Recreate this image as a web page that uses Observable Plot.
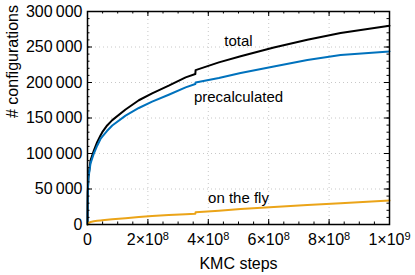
<!DOCTYPE html>
<html>
<head>
<meta charset="utf-8">
<script src="https://cdn.jsdelivr.net/npm/d3@7"></script>
<script src="https://cdn.jsdelivr.net/npm/@observablehq/plot@0.6"></script>
<style>
  html, body { margin: 0; padding: 0; background: #fff; }
</style>
</head>
<body>
<div id="chart"></div>
<script>
// KMC steps (raw)
const steps = [0, 0.005e8, 0.01e8, 0.03e8, 0.1e8, 0.21e8, 0.32e8, 0.43e8, 0.49e8, 0.65e8, 0.82e8, 1.26e8, 1.70e8, 2.14e8, 2.69e8, 3.25e8, 3.57e8, 3.58e8, 4.35e8, 5.07e8, 6.17e8, 7.28e8, 8.38e8, 10e8];
const total = [0, 26000, 46000, 67000, 90000, 104000, 116000, 125500, 130000, 139500, 147000, 162000, 175000, 184700, 195500, 207200, 211900, 217500, 228300, 237000, 249400, 260200, 269600, 279900];
const precalculated = [0, 25000, 45000, 65000, 86000, 100000, 111000, 120500, 123800, 132000, 139500, 153300, 164100, 173000, 182800, 193100, 197900, 200100, 206300, 213500, 222600, 231600, 238700, 243800];
const onTheFly = [0, 500, 1000, 2000, 3500, 4500, 5200, 5700, 6000, 6700, 7300, 8900, 10400, 11800, 13300, 14600, 15200, 17300, 19500, 21800, 24700, 27500, 30000, 33800];

const xMajor = [0, 2e8, 4e8, 6e8, 8e8, 10e8];
const xMinor = d3.range(0, 10e8 + 1, 0.5e8);
const xLabels = ["0", "2×10^8", "4×10^8", "6×10^8", "8×10^8", "1×10^9"];
const yMajor = [0, 50000, 100000, 150000, 200000, 250000, 300000];
const yMinor = d3.range(0, 300001, 10000);

const seriesNames = ["total", "precalculated", "on the fly"];
const seriesValues = [total, precalculated, onTheFly];
const seriesColors = ["#000000", "#0072BD", "#EBA418"];

const rows = [];
seriesNames.forEach((name, i) => {
  steps.forEach((s, j) => rows.push({series: name, x: s, y: seriesValues[i][j]}));
});

const W = 415, H = 275;
const mL = 87, mR = 26, mT = 11, mB = 51;
const pw = W - mL - mR, ph = H - mT - mB;
const font = "'Liberation Sans', Arial, Helvetica, sans-serif";

const yFmt = d => d3.format(",")(d).replace(/,/g, "\u2009");
const xFmt = d => xLabels[xMajor.indexOf(d)];

const chart = Plot.plot({
  width: W,
  height: H,
  marginLeft: mL,
  marginRight: mR,
  marginTop: mT,
  marginBottom: mB,
  style: {fontFamily: font, fontSize: "16px", color: "#000", background: "#fff"},
  x: {domain: [0, 10e8]},
  y: {domain: [0, 300000]},
  color: {domain: seriesNames, range: seriesColors},
  marks: [
    Plot.gridX(xMajor, {stroke: "#c8c8c8", strokeOpacity: 1, strokeDasharray: "1,3"}),
    Plot.gridY(yMajor, {stroke: "#c8c8c8", strokeOpacity: 1, strokeDasharray: "1,3"}),
    Plot.line(rows, {x: "x", y: "y", z: "series", stroke: "series", strokeWidth: 2, curve: "linear"}),
    // inward ticks bottom / top
    Plot.ruleX(xMajor, {x: d => d, insetTop: ph - 5, stroke: "#000"}),
    Plot.ruleX(xMajor, {x: d => d, insetBottom: ph - 5, stroke: "#000"}),
    Plot.ruleX(xMinor, {x: d => d, insetTop: ph - 2.5, stroke: "#000"}),
    Plot.ruleX(xMinor, {x: d => d, insetBottom: ph - 2.5, stroke: "#000"}),
    // inward ticks left / right
    Plot.ruleY(yMajor, {y: d => d, insetRight: pw - 5, stroke: "#000"}),
    Plot.ruleY(yMajor, {y: d => d, insetLeft: pw - 5, stroke: "#000"}),
    Plot.ruleY(yMinor, {y: d => d, insetRight: pw - 2.5, stroke: "#000"}),
    Plot.ruleY(yMinor, {y: d => d, insetLeft: pw - 2.5, stroke: "#000"}),
    Plot.frame({stroke: "#000", strokeWidth: 1.5}),
    Plot.axisX(xMajor, {tickSize: 0, tickPadding: 9, tickFormat: xFmt, fontSize: 16, label: null}),
    Plot.axisY(yMajor, {tickSize: 0, tickPadding: 5, tickFormat: yFmt, fontSize: 16, label: null}),
    Plot.text(["KMC steps"], {frameAnchor: "bottom", dy: 44, fontSize: 16, lineAnchor: "bottom"}),
    Plot.text(["# configurations"], {frameAnchor: "left", dx: -75, rotate: -90, fontSize: 16}),
    Plot.text(seriesNames, {x: [5e8, 5e8, 5e8], y: [258000, 180000, 37300], fontSize: 15, fill: "#000"})
  ]
});

// turn "a×10^b" tick labels into real superscripts
chart.querySelectorAll('g[aria-label="x-axis tick label"] text').forEach(t => {
  const s = t.textContent;
  const i = s.indexOf("^");
  if (i < 0) return;
  t.textContent = "";
  const ns = "http://www.w3.org/2000/svg";
  const base = document.createElementNS(ns, "tspan");
  base.textContent = s.slice(0, i);
  const sup = document.createElementNS(ns, "tspan");
  sup.textContent = s.slice(i + 1);
  sup.setAttribute("dy", "-0.4em");
  sup.setAttribute("font-size", "11px");
  t.appendChild(base);
  t.appendChild(sup);
});

document.getElementById("chart").appendChild(chart);
</script>
</body>
</html>
